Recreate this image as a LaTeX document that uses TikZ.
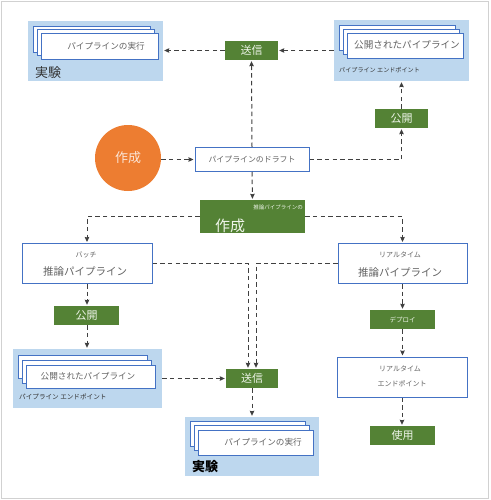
\documentclass[tikz,border=0pt]{standalone}
\usepackage{fontspec}
\setmainfont{Noto Sans CJK JP}
\usetikzlibrary{arrows.meta}
\definecolor{gbox}{HTML}{548235}
\definecolor{gtext}{HTML}{EEF5E9}
\definecolor{pblue}{HTML}{BDD7EE}
\definecolor{cblue}{HTML}{4472C4}
\definecolor{orng}{HTML}{ED7D31}
\definecolor{otext}{HTML}{FBE5D6}
\definecolor{tgray}{HTML}{626262}
\definecolor{lgray}{HTML}{404040}
\tikzset{
  panel/.style={fill=pblue, draw=none, inner sep=0pt},
  card/.style={fill=white, draw=cblue, line width=0.9pt, inner sep=0pt},
  wbox/.style={fill=white, draw=cblue, line width=1pt, inner sep=0pt, text=tgray, align=center},
  gbx/.style={fill=gbox, draw=none, inner sep=0pt, text=gtext},
  txt/.style={inner sep=0pt, text=tgray},
  conn/.style={draw=lgray, line width=1pt, dash pattern=on 4.5pt off 3.2pt, -{Stealth[length=5pt,width=4.5pt,inset=0.5pt]}, shorten >=1pt}
}
\begin{document}
\begin{tikzpicture}[x=1pt,y=-1pt]
\useasboundingbox (0,0) rectangle (490,500);
\draw[black!18, line width=0.8pt] (1.5,1.5) rectangle (488.5,498.5);

% top-left experiment
\node[panel, minimum width=135pt, minimum height=60pt] (exp1) at (95.5,51) {};
\node[card, minimum width=117pt, minimum height=26pt] (exp1c) at (91.5,39) {};
\node[card, minimum width=117pt, minimum height=26pt] (exp1b) at (95.5,42.5) {};
\node[card, minimum width=117pt, minimum height=26pt] (exp1a) at (99.5,46) {};
\node[txt, font=\fontsize{8.6}{10}\selectfont] (exp1t) at (106,46) {パイプラインの実行};
\node[txt, anchor=west, font=\fontsize{13}{15}\selectfont, text=black!80] (exp1l) at (35,73) {実験};

% top send
\node[gbx, minimum width=53pt, minimum height=19pt, font=\fontsize{11}{13}\selectfont] (send1) at (251.5,50.5) {送信};

% top-right endpoint
\node[panel, minimum width=135pt, minimum height=61pt] (ep1) at (401.5,50.5) {};
\node[card, minimum width=116pt, minimum height=25pt] (ep1c) at (397,37.5) {};
\node[card, minimum width=116pt, minimum height=25pt] (ep1b) at (401,41.5) {};
\node[card, minimum width=116pt, minimum height=25pt] (ep1a) at (405,45.5) {};
\node[txt, font=\fontsize{9.6}{11}\selectfont] (ep1t) at (407,45) {公開されたパイプライン};
\node[txt, anchor=west, font=\fontsize{6.1}{7}\selectfont, text=black!80] (ep1l) at (339,70) {パイプライン エンドポイント};

% publish top
\node[gbx, minimum width=53pt, minimum height=19pt, font=\fontsize{11}{13}\selectfont] (pub1) at (401.5,118.5) {公開};

% create circle
\node[circle, fill=orng, minimum size=66pt, inner sep=0pt, text=otext, font=\fontsize{13}{15}\selectfont] (circ) at (128,158) {作成};

% draft
\node[wbox, minimum width=114pt, minimum height=24pt, font=\fontsize{7.9}{9}\selectfont] (draft) at (252,159.5) {パイプラインのドラフト};

% create inference pipeline
\node[gbx, minimum width=105pt, minimum height=33pt] (create) at (252.5,216.5) {};
\node[inner sep=0pt, text=gtext, anchor=east, font=\fontsize{5.5}{6.5}\selectfont] (createa) at (303,207.5) {推論パイプラインの};
\node[inner sep=0pt, text=gtext, font=\fontsize{15}{17}\selectfont] (createb) at (230,226) {作成};

% batch
\node[wbox, minimum width=130pt, minimum height=40pt] (batch) at (87,263.5) {};
\node[txt, font=\fontsize{7}{8}\selectfont] (batcha) at (86,255) {バッチ};
\node[txt, font=\fontsize{10.5}{12}\selectfont] (batchb) at (85,271) {推論パイプライン};

% realtime
\node[wbox, minimum width=129pt, minimum height=40pt] (rt) at (402.5,263.5) {};
\node[txt, font=\fontsize{7}{8}\selectfont] (rta) at (400,255) {リアルタイム};
\node[txt, font=\fontsize{10.5}{12}\selectfont] (rtb) at (400,272) {推論パイプライン};

% publish left
\node[gbx, minimum width=65pt, minimum height=19pt, font=\fontsize{11}{13}\selectfont] (pub2) at (86.5,315.5) {公開};

% deploy
\node[gbx, minimum width=65pt, minimum height=19pt, font=\fontsize{6.5}{8}\selectfont] (deploy) at (402.5,319.5) {デプロイ};

% left endpoint
\node[panel, minimum width=149pt, minimum height=59pt] (ep2) at (87.5,378.5) {};
\node[card, minimum width=129pt, minimum height=23pt] (ep2c) at (82.5,366.5) {};
\node[card, minimum width=129pt, minimum height=23pt] (ep2b) at (86.5,371.5) {};
\node[card, minimum width=129pt, minimum height=23pt] (ep2a) at (90.5,376.5) {};
\node[txt, font=\fontsize{8.6}{10}\selectfont] (ep2t) at (88,376) {公開されたパイプライン};
\node[txt, anchor=west, font=\fontsize{6.6}{8}\selectfont, text=black!80] (ep2l) at (19,397) {パイプライン エンドポイント};

% bottom send
\node[gbx, minimum width=52pt, minimum height=19pt, font=\fontsize{11}{13}\selectfont] (send2) at (252,378.5) {送信};

% bottom experiment
\node[panel, minimum width=134pt, minimum height=59pt] (exp2) at (252,446.5) {};
\node[card, minimum width=115pt, minimum height=25pt] (exp2c) at (247.5,433.5) {};
\node[card, minimum width=115pt, minimum height=25pt] (exp2b) at (251.5,438) {};
\node[card, minimum width=115pt, minimum height=25pt] (exp2a) at (255.5,442.5) {};
\node[txt, font=\fontsize{8.6}{10}\selectfont] (exp2t) at (263,442) {パイプラインの実行};
\node[inner sep=0pt, anchor=west, font=\bfseries\fontsize{13}{15}\selectfont, text=black] (exp2l) at (192,467) {実験};

% realtime endpoint
\node[wbox, minimum width=130pt, minimum height=40pt] (rtep) at (402,377) {};
\node[txt, font=\fontsize{7}{8}\selectfont] (rtepa) at (400,369) {リアルタイム};
\node[txt, font=\fontsize{7}{8}\selectfont] (rtepb) at (402,384) {エンドポイント};

% use
\node[gbx, minimum width=65pt, minimum height=19pt, font=\fontsize{11}{13}\selectfont] (use) at (402.5,435.5) {使用};

% connectors
\draw[conn] (send1.west) -- (send1.west -| exp1.east);
\draw[conn] (ep1.west |- send1) -- (send1.east);
\draw[conn] (pub1.north) -- (pub1.north |- ep1.south);
\draw[conn] (draft.east) -| (pub1.south);
\draw[conn] (draft.north) -- (send1.south);
\draw[conn] (circ.east |- draft) -- (draft.west);
\draw[conn] (draft.south) -- (create.north);
\draw[conn] (create.west) -| (batch.north);
\draw[conn] (create.east) -| (rt.north);
\draw[conn] (batch.south) -- (pub2.north -| batch.south);
\draw[conn] (pub2.south -| batch.south) -- (ep2.north -| batch.south);
\draw[conn] (ep2.east |- send2) -- (send2.west);
\draw[conn] (batch.east) -| ([xshift=-4pt]send2.north);
\draw[conn] (rt.west) -| ([xshift=4pt]send2.north);
\draw[conn] (send2.south) -- (exp2.north);
\draw[conn] (rt.south) -- (deploy.north);
\draw[conn] (deploy.south) -- (rtep.north -| deploy.south);
\draw[conn] (rtep.south) -- (rtep.south |- use.north);
\end{tikzpicture}
\end{document}
